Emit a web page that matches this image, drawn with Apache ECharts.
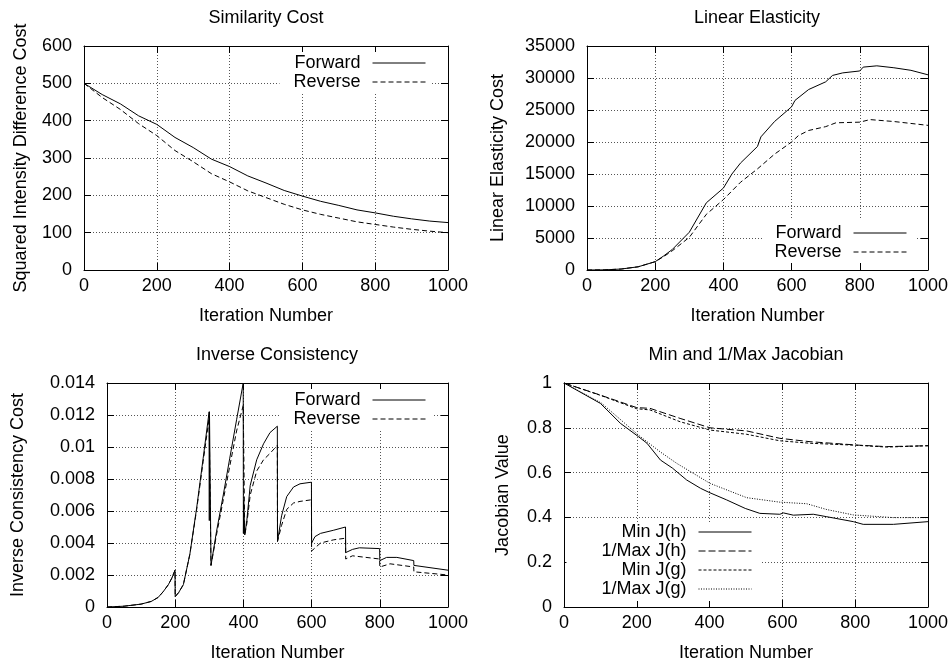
<!DOCTYPE html>
<html>
<head>
<meta charset="utf-8">
<script src="https://cdn.jsdelivr.net/npm/echarts@6/dist/echarts.min.js"></script>
<style>
html,body{margin:0;padding:0;background:#fff;}
#chart{width:951px;height:663px;}
</style>
</head>
<body>
<div id="chart"></div>
<script>
// ---------- Data ----------
// Panel 1: Similarity Cost
const simX   = [0,50,100,150,200,250,300,350,400,450,500,550,600,650,700,750,800,850,900,950,1000];
const simFwd = [500,470,445,413,390,355,328,297,277,252,233,213,198,184,173,161,153,144,137,131,127];
const simRev = [500,462,430,392,360,320,290,258,236,212,194,176,161,149,139,129,122,115,109,104,100];

// Panel 2: Linear Elasticity
const elaFwdX = [0,50,100,150,200,225,250,300,350,400,425,450,500,510,550,600,610,650,700,720,750,800,810,850,900,950,1000];
const elaFwd  = [0,20,150,500,1300,2200,3200,5900,10500,12800,15000,16700,19300,20800,23200,25500,26500,28200,29400,30400,30800,31100,31700,31900,31600,31200,30500];
const elaRevX = [0,50,100,150,200,225,250,300,350,400,450,500,550,600,620,650,700,730,800,830,900,1000];
const elaRev  = [0,20,150,500,1300,2100,3000,5100,8700,11000,13700,15800,18100,20000,21000,21800,22400,23000,23100,23500,23200,22600];

// Panel 3: Inverse Consistency
const icFwdX = [0,50,100,130,150,165,180,190,199.5,200,210,224,243,263,282,299.5,300,300.5,305,321,341,360,380,399.5,400,401,404,410,420,439,459,478,499.5,500,512,527,547,566,599.5,600,610,626,665,699.5,700,720,740,799.5,800,820,850,899.5,900,1000];
const icFwd  = [0,0.00005,0.00018,0.00035,0.0006,0.00096,0.0014,0.0018,0.0023,0.00065,0.0009,0.0014,0.0033,0.0062,0.0093,0.0122,0.0054,0.0122,0.0026,0.0047,0.0070,0.0093,0.0117,0.0140,0.0046,0.0066,0.0045,0.0054,0.0076,0.0092,0.0102,0.0109,0.0113,0.0041,0.0057,0.0069,0.0075,0.0077,0.0078,0.0040,0.0044,0.0046,0.0048,0.0050,0.0034,0.0036,0.0037,0.00365,0.0029,0.0031,0.0031,0.0029,0.0026,0.0023];
const icRevX = [0,50,100,130,150,165,180,190,199.5,200,210,224,243,263,282,299.5,305,321,341,360,380,399.5,404,410,420,439,459,478,499.5,500,512,527,547,566,599.5,600,626,665,699.5,700,720,799.5,800,830,899.5,900,1000];
const icRev  = [0,0.00005,0.00018,0.00035,0.0006,0.00096,0.0014,0.0018,0.0023,0.00065,0.0009,0.0014,0.0033,0.0061,0.0091,0.0118,0.0026,0.0045,0.0067,0.0088,0.0110,0.0126,0.0045,0.0052,0.0070,0.0085,0.0092,0.0096,0.0101,0.0041,0.0051,0.0061,0.0065,0.0066,0.0067,0.0035,0.0040,0.0042,0.0043,0.0030,0.0032,0.0030,0.0025,0.0027,0.0025,0.0022,0.0020];

// Panel 4: Min and 1/Max Jacobian
const jMinHX    = [0,100,155,205,228,265,298,303,337,375,398,403,447,498,503,538,593,598,603,630,685,722,795,822,905,1000];
const jMinH     = [1,0.909,0.82,0.76,0.731,0.656,0.62,0.628,0.567,0.53,0.512,0.518,0.478,0.44,0.448,0.418,0.414,0.414,0.42,0.41,0.414,0.403,0.381,0.369,0.369,0.381];
const jInvMaxHX = [0,100,200,236,319,401,502,593,676,804,886,1000];
const jInvMaxH  = [1,0.946,0.89,0.887,0.842,0.80,0.786,0.753,0.738,0.723,0.716,0.72];
const jMinGX    = [0,100,200,236,319,401,502,593,676,804,886,1000];
const jMinG     = [1,0.945,0.885,0.88,0.827,0.79,0.771,0.742,0.731,0.722,0.714,0.72];
const jInvMaxGX = [0,103,204,264,310,401,502,593,667,722,795,905,1000];
const jInvMaxG  = [1,0.91,0.768,0.693,0.641,0.552,0.488,0.468,0.461,0.435,0.411,0.399,0.399];

const titles = ['Similarity Cost','Linear Elasticity','Inverse Consistency','Min and 1/Max Jacobian'];
const yNames = ['Squared Intensity Difference Cost','Linear Elasticity Cost','Inverse Consistency Cost','Jacobian Value'];
const xName = 'Iteration Number';

// ---------- Layout / styling ----------
const FONT = 'Liberation Sans';
const FS = 18;
const grids = [
  {left: 84,  top: 46,  width: 364, height: 224},
  {left: 587, top: 46,  width: 341, height: 224},
  {left: 107, top: 383, width: 341, height: 224},
  {left: 564, top: 383, width: 364, height: 224}
];
const yCfg = [
  {max: 600,   interval: 100,   gap: 54, fmt: v => String(v)},
  {max: 35000, interval: 5000,  gap: 80, fmt: v => String(v)},
  {max: 0.014, interval: 0.002, gap: 80, fmt: v => String(+v.toFixed(3))},
  {max: 1,     interval: 0.2,   gap: 52, fmt: v => String(+v.toFixed(1))}
];
const titleCenters = [[266, 9], [757, 9], [277, 346], [746, 346]];

function pairs(xs, ys) { return xs.map((x, i) => [x, ys[i]]); }

const tickStyle = {show: true, inside: true, length: 7, lineStyle: {color: '#000', width: 1}};
const axisLineStyle = {show: true, onZero: false, lineStyle: {color: '#000', width: 1}};
const gridLine = {show: true, lineStyle: {color: '#555', width: 1, type: [1, 2]}};

const xAxes = [], yAxes = [];
grids.forEach((g, i) => {
  xAxes.push({
    type: 'value', gridIndex: i, position: 'bottom', min: 0, max: 1000, interval: 200,
    name: xName, nameLocation: 'middle', nameGap: 37,
    nameTextStyle: {fontFamily: FONT, fontSize: FS, color: '#000'},
    axisLine: axisLineStyle, axisTick: tickStyle, splitLine: gridLine,
    axisLabel: {fontFamily: FONT, fontSize: FS, color: '#000', margin: 7, formatter: v => String(v), showMinLabel: true, showMaxLabel: true}
  });
  xAxes.push({
    type: 'value', gridIndex: i, position: 'top', min: 0, max: 1000, interval: 200,
    axisLine: axisLineStyle, axisTick: tickStyle, splitLine: {show: false}, axisLabel: {show: false}
  });
  const c = yCfg[i];
  yAxes.push({
    type: 'value', gridIndex: i, position: 'left', min: 0, max: c.max, interval: c.interval,
    name: yNames[i], nameLocation: 'middle', nameGap: c.gap,
    nameTextStyle: {fontFamily: FONT, fontSize: FS, color: '#000'},
    axisLine: axisLineStyle, axisTick: tickStyle, splitLine: gridLine,
    axisLabel: {fontFamily: FONT, fontSize: FS, color: '#000', margin: 12, formatter: c.fmt, showMinLabel: true, showMaxLabel: true}
  });
  yAxes.push({
    type: 'value', gridIndex: i, position: 'right', min: 0, max: c.max, interval: c.interval,
    axisLine: axisLineStyle, axisTick: tickStyle, splitLine: {show: false}, axisLabel: {show: false}
  });
});

function line(name, panel, xs, ys, dash) {
  return {
    type: 'line', name: name, xAxisIndex: panel * 2, yAxisIndex: panel * 2,
    data: pairs(xs, ys), symbol: 'none', showSymbol: false, smooth: false,
    color: '#000',
    lineStyle: {color: '#000', width: 1, type: dash},
    emphasis: {disabled: true}, z: 3
  };
}

const DASH = [5, 3];
const series = [
  line('Forward', 0, simX, simFwd, 'solid'),
  line('Reverse', 0, simX, simRev, DASH),
  line('Forward', 1, elaFwdX, elaFwd, 'solid'),
  line('Reverse', 1, elaRevX, elaRev, DASH),
  line('Forward', 2, icFwdX, icFwd, 'solid'),
  line('Reverse', 2, icRevX, icRev, DASH),
  line('Min J(h)', 3, jMinHX, jMinH, 'solid'),
  line('1/Max J(h)', 3, jInvMaxHX, jInvMaxH, [7, 3]),
  line('Min J(g)', 3, jMinGX, jMinG, [3, 2]),
  line('1/Max J(g)', 3, jInvMaxGX, jInvMaxG, [1, 1.5])
];

function legend(names, right, top, padding) {
  return {
    data: names, orient: 'vertical', align: 'right', right: right, top: top,
    padding: padding, backgroundColor: '#fff', itemWidth: 53, itemHeight: 17, itemGap: 1,
    selectedMode: false,
    itemStyle: {opacity: 0, borderWidth: 0},
    lineStyle: {width: 1},
    textStyle: {fontFamily: FONT, fontSize: FS, color: '#000', lineHeight: 18, padding: [0, 7, 0, 0]}
  };
}

const option = {
  animation: false,
  backgroundColor: '#fff',
  title: titles.map((t, i) => ({
    text: t, left: titleCenters[i][0], top: titleCenters[i][1], textAlign: 'center', padding: 0,
    textStyle: {fontFamily: FONT, fontSize: FS, fontWeight: 'normal', color: '#000'}
  })),
  grid: grids,
  xAxis: xAxes,
  yAxis: yAxes,
  legend: [
    legend(['Forward', 'Reverse'], 519, 52, [2, 6, 2, 14]),
    legend(['Forward', 'Reverse'], 34, 220, [4, 10, 2, 12]),
    legend(['Forward', 'Reverse'], 519, 389, [2, 6, 2, 14]),
    legend(['Min J(h)', '1/Max J(h)', 'Min J(g)', '1/Max J(g)'], 189, 523, [0, 10, 3, 35])
  ],
  series: series
};

const chart = echarts.init(document.getElementById('chart'), null, {renderer: 'canvas'});
chart.setOption(option);
</script>
</body>
</html>
